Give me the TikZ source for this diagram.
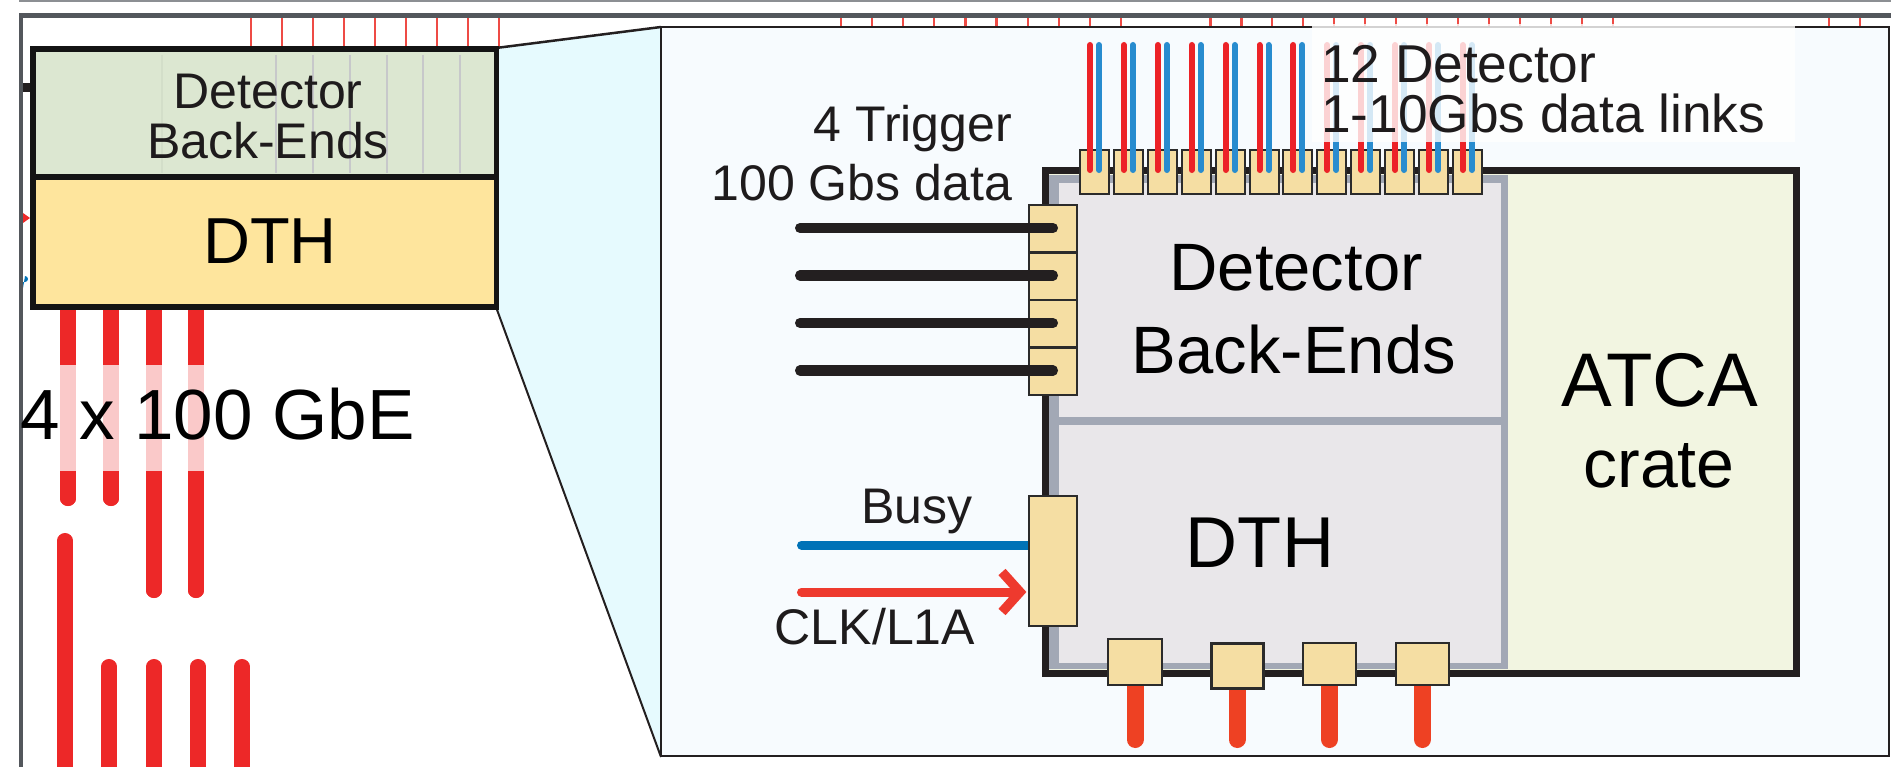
\documentclass[tikz,border=0pt]{standalone}
\usepackage{fontspec}
\setmainfont{Liberation Sans}
\usetikzlibrary{calc}
\definecolor{framegray}{HTML}{53575C}
\definecolor{thingray}{HTML}{8C8F93}
\definecolor{tickred}{HTML}{EE4B45}
\definecolor{barred}{HTML}{ED2828}
\definecolor{boxgreen}{HTML}{DCE7D1}
\definecolor{boxyellow}{HTML}{FEE59D}
\definecolor{zoomcyan}{HTML}{E6FAFE}
\definecolor{panelfill}{HTML}{F7FBFE}
\definecolor{crateblack}{HTML}{231F20}
\definecolor{atcafill}{HTML}{F2F5E1}
\definecolor{innergray}{HTML}{A2A8B5}
\definecolor{innerfill}{HTML}{E9E7EA}
\definecolor{tan}{HTML}{F5DEA3}
\definecolor{blkborder}{HTML}{2B2B2B}
\definecolor{pairred}{HTML}{EC2227}
\definecolor{pairblue}{HTML}{288CCF}
\definecolor{busyblue}{HTML}{0072B7}
\definecolor{clkred}{HTML}{EE3A2E}
\definecolor{outred}{HTML}{EE4123}
\definecolor{txt}{HTML}{1E1B1C}
\definecolor{faintline}{HTML}{C7C8CA}
\newcommand\fsz[1]{\fontsize{#1}{#1}\selectfont}
\begin{document}
\begin{tikzpicture}[x=0.01cm,y=-0.01cm,
  tick/.style={draw=tickred,line width=0.62pt},
  bar/.style={draw=barred,line width=4.27pt},
  port/.style={draw=blkborder,fill=tan,line width=0.57pt,inner sep=0pt,outer sep=0pt},
  pairr/.style={draw=pairred,line width=1.71pt,line cap=round},
  pairb/.style={draw=pairblue,line width=1.71pt,line cap=round},
  trig/.style={draw=crateblack,line width=2.85pt,line cap=round},
  outlink/.style={draw=outred,line width=4.84pt,line cap=round},
  lbl/.style={text=txt,inner sep=0pt,outer sep=0pt,anchor=base},
]
\useasboundingbox (0,0) rectangle (1891,767);

% ---- outer frame ----
\draw[thingray,line width=0.57pt] (19,1) -- (1891,1);
\draw[framegray,line width=1.28pt] (1891,15.5) -- (21,15.5) -- (21,767);

% ---- top ticks ----
\foreach \i in {0,...,8} \draw[tick] (251+31*\i,18) -- (251+31*\i,47);
\foreach \i in {0,...,9} \draw[tick] (841+31.1*\i,18) -- (841+31.1*\i,27);
\foreach \i in {0,...,13} \draw[tick] (1210.5+30.93*\i,18) -- (1210.5+30.93*\i,27);
\foreach \x in {1829,1860} \draw[tick] (\x,18) -- (\x,27);

% ---- small marks at the left frame ----
\fill[crateblack] (23,83) rectangle (33,92);
\fill[barred] (23,213) -- (30,218) -- (23,223) -- cycle;
\fill[busyblue] (23,282) -- (25,282) arc[start angle=90,end angle=-90,radius=3] -- (23,288) -- cycle;

% ---- red bars below the small box ----
\foreach \x/\e in {68/498.5,111/498.5,154/590.5,196/590.5}
  \draw[bar] (\x,307) -- (\x,\e-4) [line cap=round] -- (\x,\e);
\foreach \x in {68,111,154,196}
  \draw[bar,line cap=round] (\x,320) -- (\x,\ifnum\x<150 498.5\else 590.5\fi);
\draw[bar,line cap=round] (65,540.5) -- (65,790);
\foreach \x in {109,154,198,242} \draw[bar,line cap=round] (\x,666.5) -- (\x,790);

% ---- zoom trapezoid ----
\coordinate (zTL) at (496,48);
\coordinate (zBL) at (496,307);
\coordinate (pTL) at (661,27);
\coordinate (pBL) at (661,757);
\coordinate (pBR) at (1889,756);
\fill[zoomcyan] (zTL) -- (pTL) -- (pBL) -- (zBL) -- cycle;
\draw[crateblack,line width=0.71pt] (zTL) -- (pTL);
\draw[crateblack,line width=0.57pt] (zBL) -- (pBL);

% ---- small overview box ----
\node[fill=boxgreen,minimum width=4.63cm,minimum height=1.28cm,inner sep=0pt,outer sep=0pt,anchor=north west] (lbe) at (33,49) {};
\node[fill=boxyellow,minimum width=4.63cm,minimum height=1.30cm,inner sep=0pt,outer sep=0pt,anchor=north west] (ldth) at (33,177) {};
\foreach \x in {276,313,350,387,423,460} \draw[faintline,line width=0.57pt] (\x,55) -- (\x,173);
\draw[draw=boxgreen!85!black,line width=0.3pt,opacity=0.25] (162,55) -- (162,173);
\draw[black!92,line width=1.56pt] (lbe.north west) rectangle (ldth.south east);
\draw[black!92,line width=1.56pt] (lbe.south west) -- (lbe.south east);
\node[lbl,font=\fsz{14.23pt}] (lbet1) at (268,109) {Detector};
\node[lbl,font=\fsz{14.23pt}] (lbet2) at (268,159) {Back-Ends};
\node[lbl,font=\fsz{18.49pt},text=black] (ldtht) at (270,263) {DTH};

% ---- 4 x 100 GbE label with translucent backdrop ----
\fill[white,opacity=0.75] (25,365) rectangle (420,471);
\node[lbl,anchor=base west,font=\fsz{20.2pt},text=black] (gbe) at (20,439) {4 x 100 GbE};

% ---- zoomed panel ----
\draw[fill=panelfill,draw=crateblack,line width=0.71pt] (pTL) rectangle (pBR);

% ---- crate ----
\draw[fill=atcafill,draw=crateblack,line width=1.99pt] (1045,171) rectangle (1796,673);
\fill[innergray] (1049,175) rectangle (1508,669);
\node[fill=innerfill,minimum width=4.42cm,minimum height=2.34cm,inner sep=0pt,anchor=north west] (dbe) at (1058,182) {};
\node[fill=innerfill,minimum width=4.42cm,minimum height=2.38cm,inner sep=0pt,anchor=north west] (dth) at (1058,424) {};
\node[lbl,font=\fsz{19.06pt},text=black] (dbet1) at (1296,290) {Detector};
\node[lbl,font=\fsz{19.06pt},text=black] (dbet2) at (1294,373) {Back-Ends};
\node[lbl,font=\fsz{20.49pt},text=black] (dtht) at (1260,567) {DTH};
\node[lbl,font=\fsz{21.62pt},text=black] (atca) at (1660,406) {ATCA};
\node[lbl,font=\fsz{19.35pt},text=black] (crate) at (1659,487) {crate};

% ---- top detector ports and links ----
\foreach \i in {0,...,11} {
  \node[port,minimum width=0.29cm,minimum height=0.44cm,anchor=north west] (tp\i) at (1080+33.9*\i,150) {};
  \coordinate (tr\i) at (1090+33.9*\i,45);
  \coordinate (tb\i) at (1099+33.9*\i,45);
  \draw[pairr] (tr\i) -- (tr\i |- 0,170);
  \draw[pairb] (tb\i) -- (tb\i |- 0,170);
}
\fill[white,opacity=0.8] (1312,24) rectangle (1795,142);
\node[lbl,anchor=base west,font=\fsz{15.15pt}] (det1) at (1321,83) {12 Detector};
\node[lbl,anchor=base west,font=\fsz{15.15pt}] (det2) at (1321,133) {1-10Gbs data links};

% ---- trigger ports and links ----
\foreach \i in {0,...,3} {
  \node[port,minimum width=0.48cm,minimum height=0.475cm,anchor=north west] (trp\i) at (1029,205+47.5*\i) {};
  \coordinate (trs\i) at (800,228+47.5*\i);
  \draw[trig] (trs\i) -- (trs\i -| 1053,0);
}
\node[lbl,anchor=base east,font=\fsz{14.23pt}] (trg1) at (1012,142) {4 Trigger};
\node[lbl,anchor=base east,font=\fsz{14.23pt}] (trg2) at (1012,200) {100 Gbs data};

% ---- DTH port, busy and clock ----
\coordinate (busys) at (801.5,545);
\coordinate (clks) at (801.5,592);
\draw[busyblue,line width=2.56pt,line cap=round] (busys) -- (1035,545);
\node[port,minimum width=0.48cm,minimum height=1.30cm,anchor=north west] (dthp) at (1029,496) {};
\draw[clkred,line width=2.56pt,line cap=round] (clks) -- (1016,592);
\draw[clkred,line width=2.7pt,line join=miter] (1002,572) -- (1020,592) -- (1002,612);
\node[lbl,font=\fsz{14.23pt}] (busy) at (917,523) {Busy};
\node[lbl,font=\fsz{14.23pt}] (clk) at (875,644) {CLK/L1A};

% ---- bottom 100GbE ports ----
\foreach \n/\xa/\ya/\xb/\yb/\lw in {b1/1108/639/1162/685/0.57pt,b2/1211/643/1263/688/0.85pt,b3/1303/643/1356/685/0.57pt,b4/1396/643/1449/685/0.57pt} {
  \draw[outlink] ({(\xa+\xb)/2},670) -- ({(\xa+\xb)/2},739.5);
  \node[port,line width=\lw,minimum width={(\xb-\xa)*0.01cm},minimum height={(\yb-\ya)*0.01cm},anchor=north west] (\n) at (\xa,\ya) {};
}
\end{tikzpicture}
\end{document}
